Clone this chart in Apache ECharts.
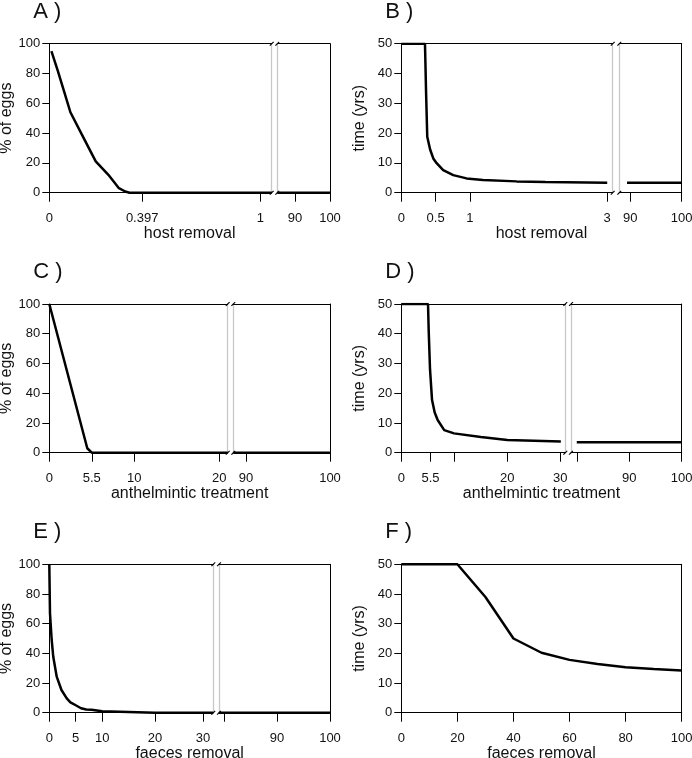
<!DOCTYPE html>
<html><head><meta charset="utf-8">
<script src="https://cdn.jsdelivr.net/npm/echarts@6/dist/echarts.min.js"></script>
<style>html,body{margin:0;padding:0;background:#fff}#c{width:692px;height:758px}</style>
</head><body><div id="c"></div>
<script>
// ---------------- data ----------------
const eggsMax = 100, eggsStep = 20;      // % of eggs axis: 0,20,...,100
const timeMax = 50,  timeStep = 10;      // time (yrs) axis: 0,10,...,50

// Panel A : % of eggs vs host removal
const aLeft  = [[0.01,95],[0.04,82],[0.07,68],[0.10,54],[0.16,37.5],[0.22,21],[0.28,12],[0.33,3],[0.36,0.8],[0.38,0],[1.054,0]];
const aRight = [[84.9,0],[100,0]];
const aTicksL = [0, 0.44, 1],   aLabelsL = ['0','0.397','1'];
const aTicksR = [90, 100],      aLabelsR = ['90','100'];

// Panel B : time (yrs) vs host removal
const bLeft  = [[0,50],[0.345,50],[0.35,45],[0.36,34.5],[0.378,18.8],[0.42,14.5],[0.466,11.5],[0.515,9.9],[0.61,7.6],[0.757,5.9],[0.95,4.8],[1.19,4.3],[1.68,3.8],[2.1,3.6],[3.0,3.35]];
const bRight = [[89.4,3.35],[100,3.3]];
const bTicksL = [0, 0.5, 1, 3], bLabelsL = ['0','0.5','1','3'];
const bTicksR = [90, 100],      bLabelsR = ['90','100'];

// Panel C : % of eggs vs anthelmintic treatment
const cLeft  = [[0,100],[4.47,3],[5.0,0],[21,0]];
const cRight = [[88.5,0],[100,0]];
const cTicksL = [0, 5.0, 10, 20], cLabelsL = ['0','5.5','10','20'];
const cTicksR = [90, 100],        cLabelsR = ['90','100'];

// Panel D : time (yrs) vs anthelmintic treatment
const dLeft  = [[0,50],[5.04,50],[5.17,41],[5.42,28],[5.8,17.7],[6.3,13.5],[6.86,11],[8.1,7.6],[9.94,6.5],[15,5.3],[20,4.3],[30.1,3.8]];
const dRight = [[80,3.5],[100,3.5]];
const dTicksL = [0, 5.5, 10, 20, 30], dLabelsL = ['0','5.5','','20','30'];
const dTicksR = [80, 90, 100],        dLabelsR = ['','90','100'];

// Panel E : % of eggs vs faeces removal
const eLeft  = [[0,100],[0.13,67],[0.45,49],[0.75,37.7],[1.4,24.3],[2.3,15.3],[3.3,9.7],[4,7],[5,5],[6,3],[7,2.2],[8,2],[8.3,1.2],[10,1],[15,0.5],[20,0],[31.03,0]];
const eRight = [[79.06,0],[100,0]];
const eTicksL = [0, 5, 10, 20, 29.1], eLabelsL = ['0','5','10','20','30'];
const eTicksR = [80, 90, 100],        eLabelsR = ['','90','100'];

// Panel F : time (yrs) vs faeces removal
const fLine = [[0,50],[20,50],[30,39],[40,25],[50,20.2],[60,17.8],[70,16.4],[80,15.3],[90,14.7],[100,14.2]];
const fTicks = [0,20,40,60,80,100], fLabels = ['0','20','40','60','80','100'];

// ---------------- layout / style ----------------
const FONT = 'Liberation Sans, Arial, Helvetica, sans-serif';
const TXT = '#111', GRAY = '#c8c8c8';
const colX = [[49.3, 330], [401.3, 681.7]];
const rows = [[43.7, 192.7], [304, 452.7], [564.3, 712.7]];

const panels = [
  {lab:'A )', col:0,row:0, brk:[271.7,277.3], yMax:eggsMax,yStep:eggsStep,yName:'% of eggs', xName:'host removal',
   axes:[{min:0,max:1.054,t:aTicksL,l:aLabelsL},{min:84.9,max:100,t:aTicksR,l:aLabelsR}], data:[aLeft,aRight]},
  {lab:'B )', col:1,row:0, brk:[612.7,619.3], yMax:timeMax,yStep:timeStep,yName:'time (yrs)', xName:'host removal',
   axes:[{min:0,max:3.08,t:bTicksL,l:bLabelsL},{min:87.9,max:100,t:bTicksR,l:bLabelsR}], data:[bLeft,bRight]},
  {lab:'C )', col:0,row:1, brk:[227.7,233.3], yMax:eggsMax,yStep:eggsStep,yName:'% of eggs', xName:'anthelmintic treatment',
   axes:[{min:0,max:21,t:cTicksL,l:cLabelsL},{min:88.5,max:100,t:cTicksR,l:cLabelsR}], data:[cLeft,cRight]},
  {lab:'D )', col:1,row:1, brk:[565.3,571], yMax:timeMax,yStep:timeStep,yName:'time (yrs)', xName:'anthelmintic treatment',
   axes:[{min:0,max:30.94,t:dTicksL,l:dLabelsL},{min:78.9,max:100,t:dTicksR,l:dLabelsR}], data:[dLeft,dRight]},
  {lab:'E )', col:0,row:2, brk:[213.3,219], yMax:eggsMax,yStep:eggsStep,yName:'% of eggs', xName:'faeces removal',
   axes:[{min:0,max:31.03,t:eTicksL,l:eLabelsL},{min:79.06,max:100,t:eTicksR,l:eLabelsR}], data:[eLeft,eRight]},
  {lab:'F )', col:1,row:2, brk:null, yMax:timeMax,yStep:timeStep,yName:'time (yrs)', xName:'faeces removal',
   axes:[{min:0,max:100,t:fTicks,l:fLabels}], data:[fLine]}
];

const grids=[], xAxes=[], yAxes=[], series=[], graphic=[];
const blackLine = {onZero:false, lineStyle:{color:'#000', width:1}};

panels.forEach(p => {
  const [x0,x1] = colX[p.col], [top,bottom] = rows[p.row];
  const segs = p.brk ? [[x0,p.brk[0]],[p.brk[1],x1]] : [[x0,x1]];
  segs.forEach((s,i) => {
    const gi = grids.length, ax = p.axes[i];
    const first = i===0, last = i===segs.length-1;
    grids.push({left:s[0], top:top, width:s[1]-s[0], height:bottom-top, containLabel:false, outerBoundsMode:'none'});
    const labVals = ax.t.filter((v,k)=>ax.l[k]!=='');
    xAxes.push({gridIndex:gi, type:'value', min:ax.min, max:ax.max, position:'bottom',
      axisLine:blackLine,
      axisTick:{show:true, length:9, lineStyle:{color:'#000', width:1}, customValues:ax.t},
      axisLabel:{show:true, customValues:labVals, margin:19, fontSize:13, color:TXT, fontFamily:FONT,
        formatter:(v)=>{let bi=0,bd=1e9; ax.t.forEach((t,k)=>{const d=Math.abs(t-v); if(d<bd){bd=d;bi=k;}}); return ax.l[bi];}},
      splitLine:{show:false}});
    const xb = xAxes.length-1;
    xAxes.push({gridIndex:gi, type:'value', min:ax.min, max:ax.max, position:'top',
      axisLine:blackLine, axisTick:{show:false}, axisLabel:{show:false}, splitLine:{show:false}});
    yAxes.push({gridIndex:gi, type:'value', min:0, max:p.yMax, interval:p.yStep, position:'left',
      axisLine:{onZero:false, lineStyle:{color:first?'#000':GRAY, width:first?1:1.3}},
      axisTick:{show:first, length:7, lineStyle:{color:'#000'}},
      axisLabel:{show:first, margin:9, fontSize:13, color:TXT, fontFamily:FONT},
      splitLine:{show:false},
      name:first?p.yName:'', nameLocation:'middle', nameGap:34,
      nameTextStyle:{fontSize:16, color:TXT, fontFamily:FONT}});
    const yl = yAxes.length-1;
    yAxes.push({gridIndex:gi, type:'value', min:0, max:p.yMax, interval:p.yStep, position:'right',
      axisLine:{onZero:false, lineStyle:{color:last?'#000':GRAY, width:last?1:1.3}},
      axisTick:{show:false}, axisLabel:{show:false}, splitLine:{show:false}});
    series.push({type:'line', xAxisIndex:xb, yAxisIndex:yl, data:p.data[i], showSymbol:false, symbol:'none',
      lineStyle:{color:'#000', width:2.5}, clip:true, animation:false, silent:true});
  });
  // break marks
  if (p.brk) {
    p.brk.forEach(g => {
      [top, bottom].forEach(y => {
        graphic.push({type:'line', shape:{x1:g-1.9, y1:y+1.9, x2:g+1.9, y2:y-1.9}, style:{stroke:'#000', lineWidth:1.1}, z:100});
      });
    });
  }
  // panel label
  graphic.push({type:'text', x:x0-16, y:top-32, style:{text:p.lab, font:'22px '+FONT, fill:TXT,
    textAlign:'left', textVerticalAlign:'middle', align:'left', verticalAlign:'middle'}});
  // x-axis name
  graphic.push({type:'text', x:(x0+x1)/2, y:bottom+40.5, style:{text:p.xName, font:'16px '+FONT, fill:TXT,
    textAlign:'center', textVerticalAlign:'middle', align:'center', verticalAlign:'middle'}});
});

const chart = echarts.init(document.getElementById('c'), null, {renderer:'canvas'});
chart.setOption({animation:false, backgroundColor:'#fff', grid:grids, xAxis:xAxes, yAxis:yAxes, series:series, graphic:graphic});
</script></body></html>
